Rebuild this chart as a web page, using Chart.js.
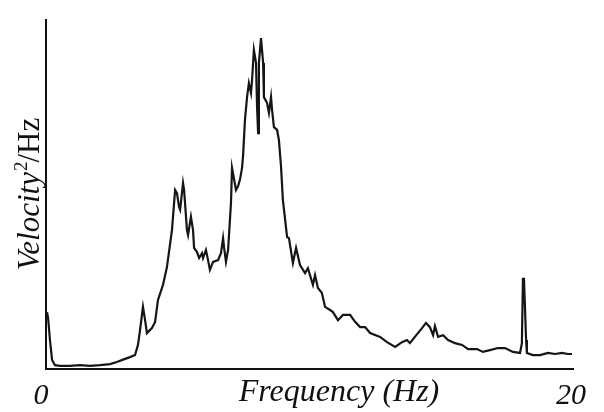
<!DOCTYPE html>
<html>
<head>
<meta charset="utf-8">
<script src="https://cdn.jsdelivr.net/npm/chart.js@4.4.1/dist/chart.umd.min.js"></script>
<style>
html,body{margin:0;padding:0;background:#fff;}
#wrap{width:604px;height:412px;position:relative;}
</style>
</head>
<body>
<div id="wrap"><canvas id="c" width="604" height="412"></canvas></div>
<script>
// Frequency (Hz) of each sample
const freqHz = [0.04,0.08,0.15,0.23,0.34,0.53,0.91,1.29,1.67,2.05,2.43,2.69,3.00,3.19,3.38,3.49,3.57,3.68,3.76,3.83,3.95,4.02,4.14,4.25,4.44,4.59,4.78,4.90,4.97,5.05,5.09,5.20,5.24,5.35,5.39,5.50,5.58,5.62,5.73,5.81,5.92,5.96,6.07,6.15,6.22,6.34,6.53,6.64,6.72,6.76,6.83,6.91,7.02,7.06,7.13,7.21,7.29,7.36,7.44,7.48,7.55,7.63,7.70,7.78,7.82,7.89,7.97,8.01,8.05,8.08,8.16,8.24,8.27,8.39,8.46,8.54,8.58,8.65,8.77,8.84,8.92,8.99,9.15,9.22,9.37,9.49,9.64,9.83,9.94,10.13,10.21,10.32,10.47,10.59,10.78,10.89,11.08,11.27,11.54,11.73,11.92,12.11,12.30,12.68,12.94,13.25,13.51,13.70,13.81,14.00,14.27,14.42,14.57,14.69,14.76,14.88,15.07,15.26,15.52,15.79,16.02,16.36,16.58,16.85,17.15,17.42,17.72,17.99,18.06,18.10,18.14,18.22,18.25,18.48,18.75,19.05,19.32,19.58,19.81,19.96];
// Velocity^2/Hz (arbitrary units, 0-100)
const psd = [16.3,14.6,8.3,2.6,1.1,0.9,0.9,1.1,0.9,1.1,1.4,2.0,2.9,3.4,4.0,6.9,11.2,17.8,14.0,10.3,11.2,11.7,13.5,19.8,24.1,29.2,39.8,51.3,50.4,46.4,45.6,53.3,51.3,39.8,38.4,43.6,39.8,34.7,33.5,31.8,33.2,31.8,34.1,31.2,28.4,30.7,31.2,33.2,37.5,34.7,30.7,34.1,47.6,57.6,54.7,51.3,52.4,54.2,57.6,61.3,71.3,77.9,81.9,79.1,82.8,91.4,87.7,75.1,67.6,87.7,94.8,87.7,77.9,76.2,73.4,77.9,74.2,69.3,68.5,65.6,57.9,48.4,37.8,37.5,30.4,34.7,29.8,27.5,28.9,24.1,26.9,23.2,21.8,17.8,16.9,16.3,14.0,15.5,15.5,13.5,12.0,12.0,10.3,9.2,7.7,6.3,7.7,8.3,7.4,9.2,11.7,13.2,12.0,9.7,12.3,9.2,9.7,8.3,7.4,6.9,5.7,5.7,4.9,5.4,6.0,6.0,4.9,4.6,7.4,25.8,25.8,8.3,4.6,4.0,4.0,4.6,4.3,4.6,4.3,4.3];
const xTickLabels = [[0,'0'],[20,'20']];
const xTitle = 'Frequency (Hz)';
const yTitleParts = ['Velocity','2','/Hz'];

const points = freqHz.map((f,i)=>({x:f,y:psd[i]}));

const textPlugin = {
  id:'texts',
  afterDraw(chart){
    const ctx = chart.ctx, xs = chart.scales.x;
    ctx.save();
    ctx.fillStyle = '#111';
    ctx.textBaseline = 'alphabetic';
    ctx.textAlign = 'center';
    ctx.font = 'italic 30px "Liberation Serif"';
    xTickLabels.forEach(([v,t])=>{
      ctx.fillText(t, xs.getPixelForValue(v) + (v===0?-5:-2), 404);
    });
    ctx.font = 'italic 32px "Liberation Serif"';
    ctx.fillText(xTitle, 339, 401);
    // y title rotated
    ctx.translate(39, 194);
    ctx.rotate(-Math.PI/2);
    ctx.font = 'italic 31px "Liberation Serif"';
    const w1 = ctx.measureText(yTitleParts[0]).width;
    ctx.font = '19px "Liberation Serif"';
    const w2 = ctx.measureText(yTitleParts[1]).width;
    ctx.font = '31px "Liberation Serif"';
    const w3 = ctx.measureText(yTitleParts[2]).width;
    let x0 = -(w1+w2+w3)/2;
    ctx.textAlign = 'left';
    ctx.font = 'italic 31px "Liberation Serif"';
    ctx.fillText(yTitleParts[0], x0, 0);
    ctx.font = '19px "Liberation Serif"';
    ctx.fillText(yTitleParts[1], x0+w1+1, -12);
    ctx.font = '31px "Liberation Serif"';
    ctx.fillText(yTitleParts[2], x0+w1+w2, 0);
    ctx.restore();
  }
};

new Chart(document.getElementById('c'), {
  type:'line',
  data:{datasets:[{data:points,borderColor:'#151515',borderWidth:2.2,pointRadius:0,tension:0,fill:false}]},
  options:{
    responsive:false,animation:false,
    layout:{padding:{left:46,right:31,top:20,bottom:43}},
    plugins:{legend:{display:false},tooltip:{enabled:false}},
    scales:{
      x:{type:'linear',min:0,max:20,
         grid:{display:false,drawTicks:false},
         border:{display:true,color:'#111',width:2},
         ticks:{display:false}},
      y:{min:0,max:100,
         grid:{display:false,drawTicks:false},
         border:{display:true,color:'#111',width:2},
         ticks:{display:false}}
    }
  },
  plugins:[textPlugin]
});
</script>
</body>
</html>
